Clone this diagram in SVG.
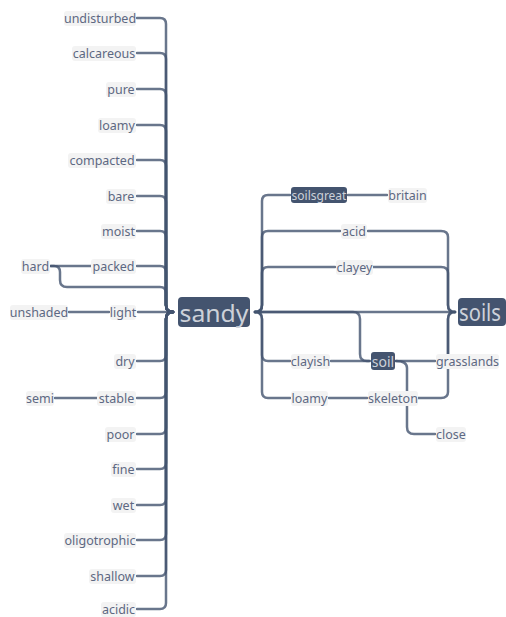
<svg xmlns="http://www.w3.org/2000/svg" width="506" height="617" viewBox="0 0 506 617">
<style>
.e{fill:none;stroke:#44546f;stroke-opacity:.8;stroke-width:2.5;stroke-linecap:round;stroke-linejoin:round}
.lb rect{fill:#f3f3f3}
text{font-family:"Noto Sans","DejaVu Sans",sans-serif;text-anchor:middle;dominant-baseline:central}
.lb text{font-size:12.5px;fill:#5d6882}
.dk rect{fill:#44546f}
.dk text{fill:#cdd1d9}
</style>
<rect width="506" height="617" fill="#ffffff"/>
<g id="connectors">
<path class="e" d="M173,312 Q166,312 166,305 V24 Q166,18 160,18 H137"/>
<path class="e" d="M173,312 Q166,312 166,305 V59 Q166,53 160,53 H137"/>
<path class="e" d="M173,312 Q166,312 166,305 V95 Q166,89 160,89 H137"/>
<path class="e" d="M173,312 Q166,312 166,305 V131 Q166,125 160,125 H137"/>
<path class="e" d="M173,312 Q166,312 166,305 V166 Q166,160 160,160 H137"/>
<path class="e" d="M173,312 Q166,312 166,305 V202 Q166,196 160,196 H137"/>
<path class="e" d="M173,312 Q166,312 166,305 V237 Q166,231 160,231 H137"/>
<path class="e" d="M173,312 Q166,312 166,305 V272 Q166,266 160,266 H137"/>
<path class="e" d="M173,312 Q166,312 166,305 V293 Q166,287 160,287 H67 Q60,287 60,280 V272 Q60,266 54,266 H50"/>
<path class="e" d="M173,312 H138"/>
<path class="e" d="M173,312 Q166,312 166,319 V355 Q166,361 160,361 H137"/>
<path class="e" d="M173,312 Q166,312 166,319 V392 Q166,398 160,398 H137"/>
<path class="e" d="M173,312 Q166,312 166,319 V428 Q166,434 160,434 H137"/>
<path class="e" d="M173,312 Q166,312 166,319 V463 Q166,469 160,469 H137"/>
<path class="e" d="M173,312 Q166,312 166,319 V499 Q166,505 160,505 H137"/>
<path class="e" d="M173,312 Q166,312 166,319 V534 Q166,540 160,540 H137"/>
<path class="e" d="M173,312 Q166,312 166,319 V570 Q166,576 160,576 H137"/>
<path class="e" d="M173,312 Q166,312 166,319 V603 Q166,609 160,609 H137"/>
<path class="e" d="M51,266 H91"/>
<path class="e" d="M69,312 H109"/>
<path class="e" d="M55,398 H97"/>
<path class="e" d="M255,312 Q262,312 262,305 V201 Q262,195 268,195 H290"/>
<path class="e" d="M255,312 Q262,312 262,305 V237 Q262,231 268,231 H340"/>
<path class="e" d="M255,312 Q262,312 262,305 V273 Q262,267 268,267 H335"/>
<path class="e" d="M255,312 Q262,312 262,319 V355 Q262,361 268,361 H290"/>
<path class="e" d="M255,312 Q262,312 262,319 V392 Q262,398 268,398 H290"/>
<path class="e" d="M255,312 H455"/>
<path class="e" d="M255,312 H353 Q360,312 360,319 V354 Q360,361 367,361 H370"/>
<path class="e" d="M348,195 H387"/>
<path class="e" d="M368,231 H441 Q448,231 448,237 V305 Q448,312 455,312"/>
<path class="e" d="M373,267 H441 Q448,267 448,273 V305 Q448,312 455,312"/>
<path class="e" d="M448,361 V319 Q448,312 455,312"/>
<path class="e" d="M418,398 H441 Q448,398 448,392 V319 Q448,312 455,312"/>
<path class="e" d="M331,361 H369"/>
<path class="e" d="M396,361 H435"/>
<path class="e" d="M396,361 Q407,361 407,368 V427 Q407,434 414,434 H435"/>
<path class="e" d="M329,398 H367"/>
</g>
<g id="sandy" class="dk"><rect x="178" y="297" width="72" height="30" rx="4"/><text x="214" y="312" font-size="24" textLength="69" lengthAdjust="spacingAndGlyphs">sandy</text></g>
<g id="soils" class="dk"><rect x="458" y="298" width="48" height="28" rx="4"/><text x="480" y="312" font-size="23" textLength="42" lengthAdjust="spacingAndGlyphs">soils</text></g>
<g id="soilsgreat" class="dk"><rect x="291" y="187" width="56" height="16" rx="3"/><text x="319" y="195" font-size="12">soilsgreat</text></g>
<g id="soil" class="dk"><rect x="371" y="352" width="24" height="18" rx="3"/><text x="383" y="361" font-size="14">soil</text></g>
<g id="undisturbed" class="lb"><rect x="64" y="11" width="72" height="15" rx="3"/><text x="100" y="18">undisturbed</text></g>
<g id="calcareous" class="lb"><rect x="72" y="46" width="64" height="15" rx="3"/><text x="104" y="53">calcareous</text></g>
<g id="pure" class="lb"><rect x="106" y="82" width="30" height="15" rx="3"/><text x="121" y="89">pure</text></g>
<g id="loamy1" class="lb"><rect x="98" y="118" width="38" height="15" rx="3"/><text x="117" y="125">loamy</text></g>
<g id="compacted" class="lb"><rect x="68" y="153" width="68" height="15" rx="3"/><text x="102" y="160">compacted</text></g>
<g id="bare" class="lb"><rect x="106" y="189" width="30" height="15" rx="3"/><text x="121" y="196">bare</text></g>
<g id="moist" class="lb"><rect x="101" y="224" width="35" height="15" rx="3"/><text x="118.5" y="231">moist</text></g>
<g id="packed" class="lb"><rect x="91" y="259" width="45" height="15" rx="3"/><text x="113.5" y="266">packed</text></g>
<g id="hard" class="lb"><rect x="21" y="259" width="29" height="15" rx="3"/><text x="35.5" y="266">hard</text></g>
<g id="light" class="lb"><rect x="110" y="305" width="26" height="15" rx="3"/><text x="123" y="312">light</text></g>
<g id="unshaded" class="lb"><rect x="10" y="305" width="58" height="15" rx="3"/><text x="39" y="312">unshaded</text></g>
<g id="dry" class="lb"><rect x="114" y="354" width="22" height="15" rx="3"/><text x="125" y="361">dry</text></g>
<g id="stable" class="lb"><rect x="97" y="391" width="39" height="15" rx="3"/><text x="116.5" y="398">stable</text></g>
<g id="semi" class="lb"><rect x="26" y="391" width="28" height="15" rx="3"/><text x="40" y="398">semi</text></g>
<g id="poor" class="lb"><rect x="105" y="427" width="31" height="15" rx="3"/><text x="120.5" y="434">poor</text></g>
<g id="fine" class="lb"><rect x="111" y="462" width="25" height="15" rx="3"/><text x="123.5" y="469">fine</text></g>
<g id="wet" class="lb"><rect x="111" y="498" width="25" height="15" rx="3"/><text x="123.5" y="505">wet</text></g>
<g id="oligotrophic" class="lb"><rect x="64" y="533" width="72" height="15" rx="3"/><text x="100" y="540">oligotrophic</text></g>
<g id="shallow" class="lb"><rect x="89" y="569" width="47" height="15" rx="3"/><text x="112.5" y="576">shallow</text></g>
<g id="acidic" class="lb"><rect x="101" y="602" width="35" height="15" rx="3"/><text x="118.5" y="609">acidic</text></g>
<g id="britain" class="lb"><rect x="388" y="188" width="39" height="15" rx="3"/><text x="407.5" y="195">britain</text></g>
<g id="acid" class="lb"><rect x="341" y="224" width="26" height="15" rx="3"/><text x="354" y="231">acid</text></g>
<g id="clayey" class="lb"><rect x="336" y="260" width="37" height="15" rx="3"/><text x="354.5" y="267">clayey</text></g>
<g id="clayish" class="lb"><rect x="291" y="354" width="39" height="15" rx="3"/><text x="310.5" y="361">clayish</text></g>
<g id="grasslands" class="lb"><rect x="436" y="354" width="63" height="15" rx="3"/><text x="467.5" y="361">grasslands</text></g>
<g id="loamy2" class="lb"><rect x="291" y="391" width="37" height="15" rx="3"/><text x="309.5" y="398">loamy</text></g>
<g id="skeleton" class="lb"><rect x="368" y="391" width="50" height="15" rx="3"/><text x="393" y="398">skeleton</text></g>
<g id="close" class="lb"><rect x="436" y="427" width="30" height="15" rx="3"/><text x="451" y="434">close</text></g>
</svg>
